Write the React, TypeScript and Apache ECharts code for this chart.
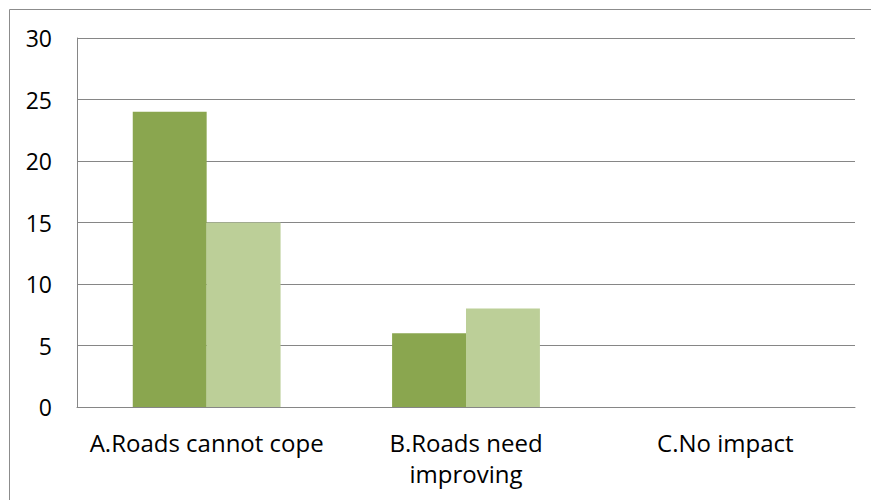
import React, { useEffect, useRef } from "react";
import * as echarts from "echarts";

const categories = ["A.Roads cannot cope", "B.Roads need\nimproving", "C.No impact"];
const seriesDark = [24, 6, 0];
const seriesLight = [15, 8, 0];
const yTicks = { min: 0, max: 30, interval: 5 };

export default function App() {
  const ref = useRef<HTMLDivElement>(null);
  useEffect(() => {
    document.body.style.margin = "0";
    const chart = echarts.init(ref.current!, null, { renderer: "svg" });
    const font = "'Open Sans', sans-serif";
    chart.setOption({
      animation: false,
      backgroundColor: "#ffffff",
      graphic: [
        {
          type: "rect",
          shape: { x: 9.5, y: 9.5, width: 1000, height: 1000 },
          style: { fill: "none", stroke: "#8c8c8c", lineWidth: 1 },
          silent: true,
        },
      ],
      grid: { left: 77, right: 16, top: 38, bottom: 93, containLabel: false },
      xAxis: {
        type: "category",
        data: categories,
        axisLine: { show: true, lineStyle: { color: "#868686", width: 1 } },
        axisTick: { show: false },
        axisLabel: {
          color: "#000",
          fontSize: 24,
          fontFamily: font,
          margin: 20,
          lineHeight: 31,
          interval: 0,
        },
      },
      yAxis: {
        type: "value",
        min: yTicks.min,
        max: yTicks.max,
        interval: yTicks.interval,
        axisLine: { show: true, lineStyle: { color: "#868686", width: 1 } },
        axisTick: { show: false },
        splitLine: { show: true, lineStyle: { color: "#868686", width: 1 } },
        axisLabel: { color: "#000", fontSize: 23, fontFamily: font, margin: 25 },
      },
      series: [
        {
          type: "bar",
          data: seriesDark,
          itemStyle: { color: "#8aa64f" },
          barGap: "0%",
          barCategoryGap: "43%",
        },
        {
          type: "bar",
          data: seriesLight,
          itemStyle: { color: "#bccf98" },
          barGap: "0%",
          barCategoryGap: "43%",
        },
      ],
    });
    return () => chart.dispose();
  }, []);
  return <div ref={ref} style={{ width: 871, height: 500 }} />;
}
